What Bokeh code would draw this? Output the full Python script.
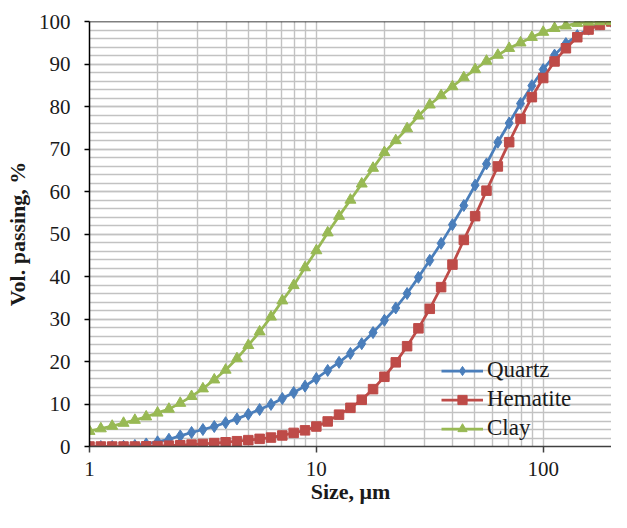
from bokeh.plotting import figure
from bokeh.models import Range1d, FixedTicker, SingleIntervalTicker, Legend, LegendItem, Span
from bokeh.embed import file_html
from bokeh.resources import INLINE

# Particle size (um)
size_um = [1.00, 1.122, 1.259, 1.413, 1.585, 1.778, 1.995, 2.239, 2.512, 2.818,
           3.162, 3.548, 3.981, 4.467, 5.012, 5.623, 6.310, 7.079, 7.943, 8.913,
           10.00, 11.22, 12.59, 14.13, 15.85, 17.78, 19.95, 22.39, 25.12, 28.18,
           31.62, 35.48, 39.81, 44.67, 50.12, 56.23, 63.10, 70.79, 79.43, 89.13,
           100.0, 112.2, 125.9, 141.3, 158.5, 177.8, 199.5]

quartz = [0, 0, 0, 0.05, 0.25, 0.6, 1.1, 1.7, 2.5, 3.3,
          4.0, 4.7, 5.6, 6.5, 7.6, 8.7, 9.9, 11.3, 12.7, 14.2,
          16.0, 17.9, 19.8, 21.9, 24.2, 26.8, 29.7, 32.6, 36.0, 39.8,
          43.8, 47.8, 52.2, 56.7, 61.5, 66.5, 71.6, 76.1, 80.7, 84.9,
          88.7, 92.1, 94.8, 96.7, 98.2, 99.4, 100]

hematite = [0, 0, 0, 0, 0, 0.05, 0.1, 0.2, 0.3, 0.45,
            0.6, 0.8, 1.0, 1.25, 1.5, 1.8, 2.1, 2.6, 3.2, 3.8,
            4.7, 5.9, 7.5, 9.1, 11.0, 13.5, 16.4, 19.8, 23.6, 27.8,
            32.4, 37.5, 42.8, 48.6, 54.2, 60.2, 65.9, 71.6, 77.1, 82.2,
            86.7, 90.6, 93.7, 96.3, 98.1, 99.2, 100]

clay = [3.6, 4.2, 4.8, 5.5, 6.2, 7.0, 7.9, 8.8, 10.2, 11.8,
        13.6, 15.7, 18.0, 20.7, 23.8, 27.0, 30.5, 34.3, 37.9, 42.1,
        46.1, 50.3, 54.2, 58.0, 61.8, 65.5, 69.2, 72.0, 74.8, 77.8,
        80.4, 82.6, 84.7, 86.8, 88.7, 90.7, 92.1, 93.7, 95.0, 96.3,
        97.5, 98.4, 99.0, 99.6, 99.9, 100, 100]

x_major = [1, 10, 100]
x_minor = [2, 3, 4, 5, 6, 7, 8, 9, 20, 30, 40, 50, 60, 70, 80, 90, 200]

FONT = "Liberation Serif"

p = figure(width=611, height=512, x_axis_type="log",
           x_range=Range1d(1, 200), y_range=Range1d(0, 100),
           output_backend="svg", toolbar_location=None,
           min_border_left=89, min_border_right=0,
           min_border_top=21, min_border_bottom=66)
p.outline_line_color = None
p.background_fill_color = "white"
p.border_fill_color = "white"

# axes
p.xaxis.ticker = FixedTicker(ticks=x_major, minor_ticks=x_minor)
p.yaxis.ticker = SingleIntervalTicker(interval=10, num_minor_ticks=5)
for ax in (p.xaxis[0], p.yaxis[0]):
    ax.major_label_text_font = FONT
    ax.major_label_text_font_size = "21px"
    ax.major_label_text_color = "#1a1a1a"
    ax.axis_label_text_font = FONT
    ax.axis_label_text_font_size = "22px"
    ax.axis_label_text_font_style = "bold"
    ax.axis_label_text_color = "#1a1a1a"
    ax.minor_tick_line_color = None
    ax.major_tick_in = 0
    ax.axis_line_width = 1.5
    ax.major_tick_line_width = 1.5
p.xaxis.major_tick_out = 6
p.yaxis.major_tick_out = 5
p.xaxis.axis_label = "Size, μm"
p.yaxis.axis_label = "Vol. passing, %"
p.xaxis.axis_line_color = "#404040"
p.xaxis.major_tick_line_color = "#404040"
p.yaxis.axis_line_color = "black"
p.yaxis.major_tick_line_color = "black"
p.yaxis.major_label_standoff = 14
p.xaxis.major_label_standoff = 9
p.yaxis.axis_label_standoff = 6
p.xaxis.axis_label_standoff = 0
p.xaxis.major_label_overrides = {1: "1", 10: "10", 100: "100"}

# grids
for g in (p.xgrid[0], p.ygrid[0]):
    g.grid_line_color = "#c2c2c2"
    g.grid_line_width = 1.4
    g.minor_grid_line_color = "#c2c2c2"
    g.minor_grid_line_width = 1.4

p.add_layout(Span(location=100, dimension="width", line_color="black", line_width=1.5))

series = [
    ("Quartz", quartz, "#4a7ebb", "diamond", 12),
    ("Hematite", hematite, "#be4b48", "square", 9.5),
    ("Clay", clay, "#98b954", "triangle", 11),
]
items = []
for name, vals, col, mk, sz in series:
    lr = p.line(size_um, vals, line_color=col, line_width=2.75)
    sr = p.scatter(size_um, vals, marker=mk, size=sz,
                   fill_color=col, line_color=col)
    items.append(LegendItem(label=name, renderers=[lr, sr]))

legend = Legend(items=items, location=(352, 5))
legend.label_text_font = FONT
legend.label_text_font_size = "23px"
legend.label_text_color = "#1a1a1a"
legend.glyph_width = 42
legend.glyph_height = 23
legend.label_height = 23
legend.label_standoff = 4
legend.spacing = 3
legend.padding = 0
legend.margin = 0
legend.border_line_color = None
legend.background_fill_alpha = 0
p.add_layout(legend)

open("out.html", "w").write(file_html(p, INLINE))
